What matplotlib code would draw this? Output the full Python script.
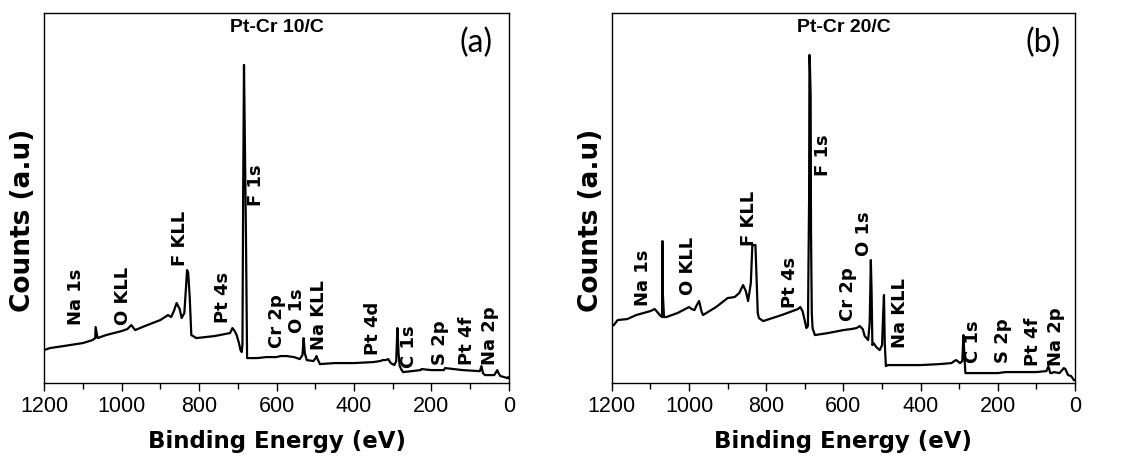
import matplotlib.pyplot as plt
from matplotlib.ticker import MultipleLocator

# XPS survey spectra (arbitrary counts)
energy_a = [1200, 1185, 1150, 1100, 1075, 1068, 1067, 1062, 1040, 1000, 985, 975, 965, 940, 900, 880,
            872, 865, 858, 850, 845, 838, 833, 831, 828, 824, 820, 807, 760, 720, 714, 708, 703, 697,
            693, 690, 688, 686, 684, 682, 679, 676, 650, 626, 600, 590, 574, 555, 540, 533, 530, 527,
            522, 505, 499, 497, 494, 488, 450, 400, 350, 333, 325, 318, 312, 305, 296, 291, 288, 285,
            282, 277, 273, 250, 228, 226, 200, 168, 165, 120, 78, 75, 71, 67, 62, 50, 38, 30, 27, 22,
            12, 5, 2, 0]
counts_a = [33, 35, 37, 40, 43, 45, 56, 45, 48, 52, 54, 58, 53, 57, 63, 68, 66, 72, 80, 74, 65, 70, 100,
            113, 110, 85, 48, 45, 47, 50, 55, 52, 48, 40, 33, 31, 38, 200, 318, 250, 150, 25, 25, 26,
            26, 27, 27, 26, 24, 28, 45, 30, 23, 22, 25, 27, 24, 19, 20, 20, 21, 22, 23, 23, 24, 20,
            18, 22, 55, 30, 17, 13, 11, 12, 13, 14, 13, 13, 15, 13, 12, 12, 17, 10, 8, 8, 8, 13, 10,
            7, 6, 5, 6, 5]

energy_b = [1200, 1195, 1185, 1160, 1137, 1100, 1089, 1080, 1076, 1070, 1069, 1068, 1065, 1059, 1030,
            1000, 993, 986, 980, 974, 968, 964, 930, 900, 882, 870, 860, 853, 847, 840, 836, 834, 828,
            822, 819, 808, 760, 718, 712, 706, 700, 696, 692, 689, 688, 687, 685, 684, 682, 680, 674,
            640, 600, 580, 566, 558, 550, 545, 536, 532, 529, 527, 525, 522, 515, 506, 500, 497, 495,
            493, 490, 485, 450, 400, 350, 320, 313, 308, 298, 292, 289, 287, 284, 281, 279, 250, 200,
            180, 170, 150, 100, 74, 69, 64, 60, 55, 40, 29, 25, 18, 10, 3, 0]
counts_b = [57, 58, 63, 64, 68, 72, 74, 70, 68, 66, 142, 90, 66, 66, 70, 76, 74, 73, 78, 82, 72, 68,
            76, 85, 86, 90, 98, 92, 82, 100, 138, 138, 138, 70, 65, 62, 68, 74, 76, 72, 62, 55, 57,
            183, 328, 320, 287, 150, 70, 55, 48, 50, 53, 54, 55, 57, 54, 47, 43, 60, 123, 90, 38, 40,
            36, 33, 38, 70, 88, 40, 17, 18, 18, 18, 19, 20, 22, 23, 20, 22, 48, 30, 10, 10, 10, 10,
            10, 11, 11, 11, 11, 12, 17, 10, 10, 11, 10, 15, 14, 8, 7, 3, 3]

peaks_a = ['Na 1s', 'O KLL', 'F KLL', 'Pt 4s', 'F 1s', 'Cr 2p', 'O 1s', 'Na KLL', 'Pt 4d', 'C 1s',
           'S 2p', 'Pt 4f', 'Na 2p']
peak_x_a = [1118, 996, 850, 738, 652, 600, 546, 490, 350, 257, 178, 109, 49]
peak_y_a = [58, 58, 117, 60, 177, 35, 50, 33, 28, 15, 18, 18, 18]

peaks_b = ['Na 1s', 'O KLL', 'F KLL', 'Pt 4s', 'F 1s', 'Cr 2p', 'O 1s', 'Na KLL', 'C 1s', 'S 2p',
           'Pt 4f', 'Na 2p']
peak_x_b = [1120, 1003, 845, 739, 653, 588, 547, 454, 264, 186, 108, 48]
peak_y_b = [77, 88, 137, 75, 207, 62, 127, 35, 20, 20, 17, 17]

titles = ['Pt-Cr 10/C', 'Pt-Cr 20/C']
panel_tags = ['(a)', '(b)']

fig = plt.figure(figsize=(11.31, 4.61), dpi=100)
ax_a = fig.add_axes([0.039, 0.169, 0.411, 0.803])
ax_b = fig.add_axes([0.541, 0.169, 0.4095, 0.803])

panels = [(ax_a, energy_a, counts_a, peaks_a, peak_x_a, peak_y_a),
          (ax_b, energy_b, counts_b, peaks_b, peak_x_b, peak_y_b)]

for i, (ax, en, ct, names, px, py) in enumerate(panels):
    ax.plot(en, ct, color='black', lw=1.6)
    ax.set_xlim(1200, 0)
    ax.set_ylim(0, 370)
    ax.set_yticks([])
    ax.xaxis.set_major_locator(MultipleLocator(200))
    ax.xaxis.set_minor_locator(MultipleLocator(100))
    ax.tick_params(axis='x', which='major', direction='out', length=6, width=1,
                   labelsize=15.5, pad=3)
    ax.tick_params(axis='x', which='minor', direction='out', length=4, width=1)
    for lab in ax.get_xticklabels():
        lab.set_fontfamily('Liberation Sans')
    for s in ax.spines.values():
        s.set_linewidth(1.0)
    ax.set_xlabel('Binding Energy (eV)', fontsize=16.5, fontweight='bold',
                  family='DejaVu Sans', labelpad=10)
    ax.set_ylabel('Counts (a.u)', fontsize=19, fontweight='bold', family='DejaVu Sans')
    ax.yaxis.set_label_coords(-0.018, 0.44)
    for name, x, y in zip(names, px, py):
        ax.text(x, y, name, rotation=90, ha='center', va='bottom', fontsize=13,
                fontweight='bold', family='DejaVu Sans')
    ax.text(0.5, 0.96, titles[i], transform=ax.transAxes, ha='center', va='center',
            fontsize=14, fontweight='bold', family='Liberation Sans')
    ax.text(0.93, 0.92, panel_tags[i], transform=ax.transAxes, ha='center', va='center',
            fontsize=23, family='Lato')

fig.savefig('out.png', dpi=100)
